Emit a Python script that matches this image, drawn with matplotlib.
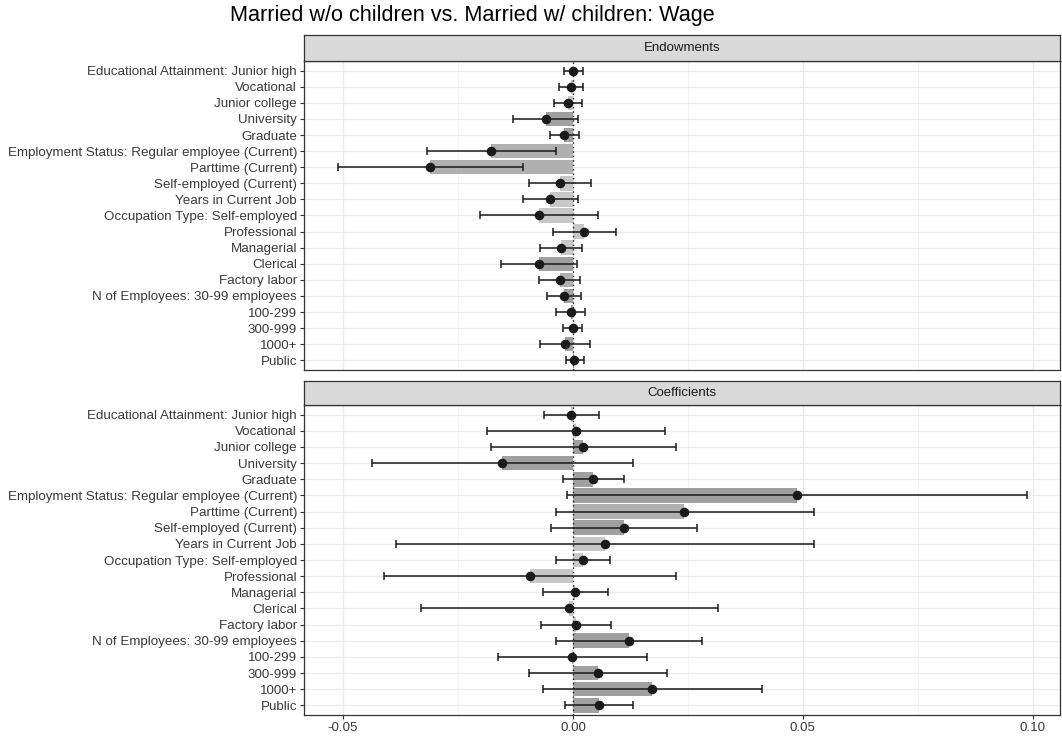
import matplotlib
matplotlib.use("Agg")
import matplotlib.pyplot as plt
import numpy as np

plt.rcParams["font.family"] = ["Liberation Sans", "DejaVu Sans"]

title = "Married w/o children vs. Married w/ children: Wage"

labels = [
    "Educational Attainment: Junior high", "Vocational", "Junior college",
    "University", "Graduate",
    "Employment Status: Regular employee (Current)", "Parttime (Current)",
    "Self-employed (Current)", "Years in Current Job",
    "Occupation Type: Self-employed", "Professional", "Managerial",
    "Clerical", "Factory labor", "N of Employees: 30-99 employees",
    "100-299", "300-999", "1000+", "Public",
]

# Endowments: estimate, lower and upper bounds
endow_est = [0.0000, -0.0005, -0.0010, -0.0059, -0.0020, -0.0178, -0.0311,
             -0.0028, -0.0049, -0.0074, 0.0024, -0.0026, -0.0074, -0.0029,
             -0.0020, -0.0005, -0.0001, -0.0017, 0.0003]
endow_lo = [-0.0019, -0.0031, -0.0041, -0.0131, -0.0051, -0.0318, -0.0512,
            -0.0096, -0.0109, -0.0203, -0.0044, -0.0072, -0.0157, -0.0074,
            -0.0057, -0.0038, -0.0022, -0.0071, -0.0016]
endow_hi = [0.0021, 0.0022, 0.0020, 0.0010, 0.0013, -0.0036, -0.0109,
            0.0039, 0.0010, 0.0054, 0.0093, 0.0020, 0.0009, 0.0015,
            0.0017, 0.0027, 0.0020, 0.0038, 0.0023]
endow_tone = ["light", "light", "light", "dark", "dark", "mid", "mid",
              "light", "light", "light", "light", "light", "dark", "mid",
              "dark", "dark", "dark", "dark", "dark"]

# Coefficients: estimate, lower and upper bounds
coef_est = [-0.0004, 0.0006, 0.0022, -0.0154, 0.0044, 0.0488, 0.0242,
            0.0110, 0.0069, 0.0021, -0.0093, 0.0005, -0.0009, 0.0006,
            0.0121, -0.0002, 0.0054, 0.0172, 0.0057]
coef_lo = [-0.0063, -0.0188, -0.0179, -0.0438, -0.0022, -0.0013, -0.0038,
           -0.0048, -0.0385, -0.0037, -0.0412, -0.0065, -0.0331, -0.0070,
           -0.0036, -0.0164, -0.0096, -0.0066, -0.0017]
coef_hi = [0.0056, 0.0201, 0.0225, 0.0130, 0.0110, 0.0988, 0.0524,
           0.0269, 0.0524, 0.0080, 0.0224, 0.0077, 0.0315, 0.0083,
           0.0280, 0.0161, 0.0205, 0.0412, 0.0130]
coef_tone = ["light", "light", "dark", "dark", "dark", "dark", "mid",
             "dark", "light", "light", "light", "light", "light", "light",
             "dark", "light", "dark", "dark", "dark"]

tone_colors = {"dark": "#A0A0A0", "mid": "#B0B0B0", "light": "#C8C8C8"}

xticks = [-0.05, 0.00, 0.05, 0.10]
xtick_labels = ["-0.05", "0.00", "0.05", "0.10"]
xminor = [-0.025, 0.025, 0.075]

W, H = 1062, 736
fig = plt.figure(figsize=(W / 100, H / 100), dpi=100)

left_px, right_px = 304, 1060
panels = [
    ("Endowments", endow_est, endow_lo, endow_hi, endow_tone, 61, 370, 35),
    ("Coefficients", coef_est, coef_lo, coef_hi, coef_tone, 405, 715, 381),
]

n = len(labels)
ypos = np.arange(n)

for i, (name, est, lo, hi, tone, top, bot, strip_top) in enumerate(panels):
    ax = fig.add_axes([left_px / W, 1 - bot / H, (right_px - left_px) / W,
                       (bot - top) / H])
    ax.set_xlim(-0.0585, 0.1059)
    ax.set_ylim(n - 0.4, -0.6)
    ax.set_facecolor("white")

    # grid
    for xv in xticks:
        ax.axvline(xv, color="#EBEBEB", lw=1.0, zorder=0)
    for xv in xminor:
        ax.axvline(xv, color="#F4F4F4", lw=0.6, zorder=0)
    for yv in ypos:
        ax.axhline(yv, color="#EBEBEB", lw=1.0, zorder=0)

    ax.barh(ypos, est, height=0.9, color=[tone_colors[t] for t in tone],
            zorder=1, linewidth=0)
    ax.axvline(0, color="#1A1A1A", lw=1.0, ls=(0, (1, 2.2)), zorder=2)
    est_a = np.array(est)
    ax.errorbar(est_a, ypos,
                xerr=[est_a - np.array(lo), np.array(hi) - est_a],
                fmt="none", ecolor="#1A1A1A", elinewidth=1.1, capsize=2.6,
                capthick=1.1, zorder=3)
    ax.plot(est_a, ypos, "o", color="#1A1A1A", ms=5.9, zorder=4)

    ax.set_yticks(ypos)
    ax.set_yticklabels(labels, fontsize=9.65, color="#3A3A3A")
    ax.set_xticks(xticks)
    if i == 1:
        ax.set_xticklabels(xtick_labels, fontsize=9.65, color="#3A3A3A")
    else:
        ax.set_xticklabels([])
    ax.tick_params(axis="both", length=3, width=0.8, color="#333333", pad=2)
    if i == 0:
        ax.tick_params(axis="x", length=0)
    for sp in ax.spines.values():
        sp.set_color("#333333")
        sp.set_linewidth(0.9)

    # facet strip
    sax = fig.add_axes([left_px / W, 1 - top / H, (right_px - left_px) / W,
                        (top - strip_top) / H])
    sax.set_xticks([])
    sax.set_yticks([])
    sax.set_facecolor("#D9D9D9")
    for sp in sax.spines.values():
        sp.set_color("#333333")
        sp.set_linewidth(0.9)
    sax.text(0.5, 0.5, name, ha="center", va="center", fontsize=9.5,
             color="#1A1A1A", transform=sax.transAxes)

fig.text(230 / W, 1 - 15 / H, title, ha="left", va="center", fontsize=15.6,
         color="#000000")

fig.savefig("out.png", dpi=100)
